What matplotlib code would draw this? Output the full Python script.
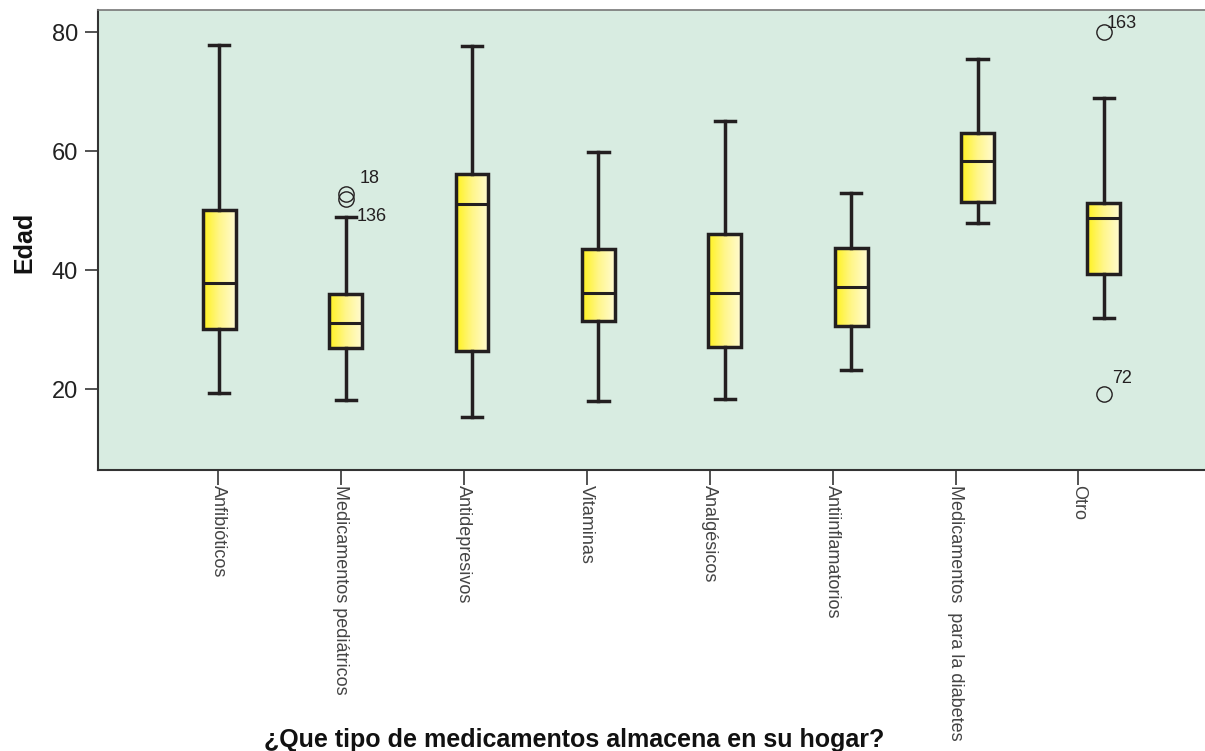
## boxplot of Edad by tipo de medicamento (SPSS-style look)

import matplotlib
matplotlib.use('Agg')
import matplotlib.pyplot as plt
from matplotlib.colors import LinearSegmentedColormap
import numpy as np

plt.rcParams['font.family'] = ['Liberation Sans', 'DejaVu Sans']

# categories and five-number summaries
categorias = ['Anfibióticos', 'Medicamentos pediátricos', 'Antidepresivos',
              'Vitaminas', 'Analgésicos', 'Antiinflamatorios',
              'Medicamentos  para la diabetes', 'Otro']
whis_lo = [19.3, 18.2, 15.4, 18.0, 18.3, 23.2, 47.9, 32.0]
q1      = [30.2, 26.9, 26.5, 31.5, 27.1, 30.7, 51.5, 39.4]
mediana = [37.9, 31.1, 51.1, 36.1, 36.1, 37.2, 58.3, 48.7]
q3      = [50.2, 36.0, 56.1, 43.6, 46.1, 43.7, 63.1, 51.3]
whis_hi = [77.9, 49.0, 77.7, 59.9, 65.1, 53.0, 75.5, 68.9]

# outliers: (group index, value, case label, label offset in points)
out_grupo = [1, 1, 7, 7]
out_valor = [52.8, 51.9, 80.0, 19.2]
out_caso  = ['18', '136', '163', '72']
out_off   = [(17, 11.5), (19, -12), (13, 6), (13, 11.5)]

edge = '#231F20'
bg = '#D8ECE1'

stats = []
for i in range(len(categorias)):
    fl = [v for g, v in zip(out_grupo, out_valor) if g == i]
    stats.append(dict(whislo=whis_lo[i], q1=q1[i], med=mediana[i],
                      q3=q3[i], whishi=whis_hi[i], fliers=fl))

pos = np.arange(1, len(categorias) + 1)

fig = plt.figure(figsize=(12.05, 7.51), dpi=100)
ax = fig.add_axes([98 / 1205, 1 - 470 / 751, 1 - 98 / 1205, (470 - 9.5) / 751])
ax.set_facecolor(bg)

bp = ax.bxp(stats, positions=pos, widths=0.26, capwidths=0.16,
            patch_artist=True, showfliers=True,
            boxprops=dict(edgecolor=edge, linewidth=2.5),
            whiskerprops=dict(color=edge, linewidth=2.5),
            capprops=dict(color=edge, linewidth=2.5),
            medianprops=dict(color=edge, linewidth=2.2),
            flierprops=dict(marker='o', markersize=11, markerfacecolor='none',
                            markeredgecolor=edge, markeredgewidth=1.0))

# yellow gradient fill inside each box
cmap = LinearSegmentedColormap.from_list('amarillo', ['#FFF21C', '#FFF68A', '#FFFBD2'])
grad = np.linspace(0, 1, 256).reshape(1, -1)
for patch in bp['boxes']:
    patch.set_facecolor('none')
    verts = patch.get_path().vertices
    x0, x1 = verts[:, 0].min(), verts[:, 0].max()
    y0, y1 = verts[:, 1].min(), verts[:, 1].max()
    im = ax.imshow(grad, cmap=cmap, extent=(x0, x1, y0, y1), aspect='auto',
                   origin='lower', zorder=1.9)
    im.set_clip_path(patch)

for g, v, txt, off in zip(out_grupo, out_valor, out_caso, out_off):
    ax.annotate(txt, xy=(pos[g], v), xytext=off, textcoords='offset points',
                ha='center', va='center', fontsize=13, color='#231F20')

ax.set_xlim(0.04, 8.80)
ax.set_ylim(6.45, 83.8)

# the category ticks sit on a slightly tighter spacing than the boxes
ax.set_xticks(0.99 + np.arange(len(categorias)) * 0.9727)
ax.set_xticklabels(categorias, rotation=-90, fontsize=13, color='#222222',
                   va='top', ha='center')
ax.set_yticks([20, 40, 60, 80])
ax.tick_params(axis='y', length=9.5, width=1.3, colors='#444444', pad=5,
               labelsize=17, labelcolor='#222222')
ax.tick_params(axis='x', length=11, width=1.3, colors='#444444', pad=0)

ax.spines['right'].set_visible(False)
ax.spines['top'].set_color('#777777')
ax.spines['top'].set_linewidth(1.2)
for s in ['left', 'bottom']:
    ax.spines[s].set_color('#333333')
    ax.spines[s].set_linewidth(1.5)

fig.text(24 / 1205, 1 - 242 / 751, 'Edad', rotation=90, fontsize=18,
         fontweight='bold', ha='center', va='center', color='#111111')
fig.text(574 / 1205, 1 - 740 / 751, '¿Que tipo de medicamentos almacena en su hogar?',
         fontsize=18, fontweight='bold', ha='center', va='center', color='#111111')

fig.savefig('out.png', dpi=100, facecolor='white')
